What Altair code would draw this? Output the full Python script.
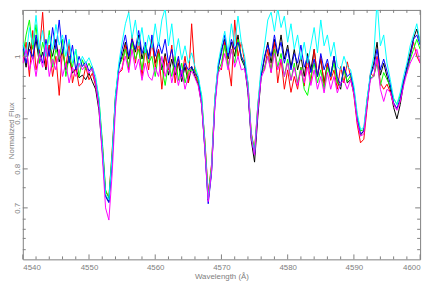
import altair as alt
import pandas as pd

WAVELENGTH = [
    4540.0, 4540.5, 4541.0, 4541.5, 4542.0, 4542.5, 4543.0, 4543.5, 4544.0, 4544.5,
    4545.0, 4545.5, 4546.0, 4546.5, 4547.0, 4547.5, 4548.0, 4548.5, 4549.0, 4549.5,
    4550.0, 4550.5, 4551.0, 4551.5, 4552.0, 4552.5, 4553.0, 4553.5, 4554.0, 4554.5,
    4555.0, 4555.5, 4556.0, 4556.5, 4557.0, 4557.5, 4558.0, 4558.5, 4559.0, 4559.5,
    4560.0, 4560.5, 4561.0, 4561.5, 4562.0, 4562.5, 4563.0, 4563.5, 4564.0, 4564.5,
    4565.0, 4565.5, 4566.0, 4566.5, 4567.0, 4567.5, 4568.0, 4568.5, 4569.0, 4569.5,
    4570.0, 4570.5, 4571.0, 4571.5, 4572.0, 4572.5, 4573.0, 4573.5, 4574.0, 4574.5,
    4575.0, 4575.5, 4576.0, 4576.5, 4577.0, 4577.5, 4578.0, 4578.5, 4579.0, 4579.5,
    4580.0, 4580.5, 4581.0, 4581.5, 4582.0, 4582.5, 4583.0, 4583.5, 4584.0, 4584.5,
    4585.0, 4585.5, 4586.0, 4586.5, 4587.0, 4587.5, 4588.0, 4588.5, 4589.0, 4589.5,
    4590.0, 4590.5, 4591.0, 4591.5, 4592.0, 4592.5, 4593.0, 4593.5, 4594.0, 4594.5,
    4595.0, 4595.5, 4596.0, 4596.5, 4597.0, 4597.5, 4598.0, 4598.5, 4599.0, 4599.5,
    4600.0,
]

BLACK = [
    1.010, 0.984, 1.020, 0.996, 1.024, 0.990, 1.006, 0.980, 1.016, 1.000,
    1.024, 0.992, 1.008, 0.980, 1.000, 0.975, 0.982, 0.968, 0.972, 0.965,
    0.975, 0.962, 0.950, 0.915, 0.840, 0.735, 0.718, 0.825, 0.930, 0.985,
    1.000, 1.020, 0.996, 1.024, 1.006, 1.030, 0.996, 1.016, 1.000, 1.024,
    0.990, 1.010, 0.980, 1.004, 0.972, 0.996, 0.972, 0.990, 0.962, 0.985,
    0.960, 0.985, 0.970, 0.958, 0.925, 0.845, 0.722, 0.795, 0.925, 0.982,
    1.010, 1.024, 0.996, 1.020, 1.000, 1.030, 0.996, 0.985, 0.945, 0.860,
    0.815, 0.905, 0.970, 0.996, 1.020, 0.990, 1.024, 1.000, 1.030, 0.996,
    1.016, 0.984, 1.010, 0.980, 1.000, 0.970, 1.004, 0.980, 1.010, 0.970,
    0.996, 0.960, 0.990, 0.970, 1.000, 0.962, 0.950, 0.985, 0.960, 0.965,
    0.945, 0.898, 0.870, 0.878, 0.925, 0.972, 0.990, 1.020, 0.972, 0.990,
    0.970, 0.950, 0.920, 0.900, 0.925, 0.958, 0.985, 1.005, 1.025, 1.038,
    1.020,
]

RED = [
    0.990, 1.020, 0.970, 1.036, 0.980, 1.004, 1.060, 0.984, 1.016, 0.970,
    1.000, 0.940, 1.010, 0.984, 1.020, 0.960, 0.984, 0.955, 0.960, 0.985,
    0.965, 0.975, 0.955, 0.925, 0.855, 0.745, 0.730, 0.840, 0.940, 0.975,
    0.980, 1.016, 0.980, 1.030, 0.990, 1.020, 0.970, 1.010, 0.980, 1.024,
    0.984, 1.010, 0.950, 1.000, 0.980, 1.016, 0.960, 0.996, 0.970, 1.000,
    0.960, 1.045, 0.975, 0.960, 0.930, 0.860, 0.740, 0.810, 0.935, 0.985,
    0.980, 1.020, 0.990, 0.955, 1.050, 1.000, 1.020, 0.992, 0.960, 0.875,
    0.840, 0.925, 0.975, 0.980, 1.010, 0.976, 1.020, 0.960, 0.996, 0.950,
    0.980, 0.945, 0.970, 0.950, 0.984, 0.955, 0.996, 0.960, 1.010, 0.970,
    1.000, 0.956, 0.990, 0.964, 0.980, 0.950, 0.985, 0.960, 0.992, 0.970,
    0.940, 0.890, 0.855, 0.862, 0.920, 0.975, 0.970, 1.000, 0.960, 0.950,
    0.958, 0.945, 0.925, 0.918, 0.930, 0.965, 0.975, 1.000, 1.020, 1.000,
    0.990,
]

GREEN = [
    1.000, 1.030, 1.050, 1.010, 1.044, 0.990, 1.020, 1.000, 1.036, 0.984,
    1.010, 0.996, 1.024, 0.970, 1.000, 0.984, 1.010, 0.970, 0.995, 0.980,
    0.990, 0.978, 0.965, 0.935, 0.860, 0.750, 0.728, 0.835, 0.940, 0.985,
    0.996, 1.010, 0.984, 1.020, 0.996, 1.010, 0.980, 1.016, 0.990, 1.000,
    0.970, 1.004, 0.984, 0.956, 0.990, 0.970, 1.000, 0.964, 0.990, 0.960,
    0.980, 0.978, 0.982, 0.962, 0.940, 0.855, 0.735, 0.805, 0.935, 0.978,
    0.990, 1.016, 0.984, 1.010, 0.990, 1.024, 1.000, 0.988, 0.958, 0.872,
    0.838, 0.920, 0.975, 0.984, 1.000, 0.980, 1.010, 0.984, 1.004, 0.970,
    0.996, 0.964, 0.990, 0.960, 0.984, 0.950, 0.940, 0.970, 0.990, 0.960,
    0.980, 0.950, 0.984, 0.970, 0.990, 0.960, 0.956, 0.980, 0.962, 0.972,
    0.950, 0.905, 0.878, 0.880, 0.935, 0.968, 0.970, 0.990, 0.956, 0.976,
    0.965, 0.955, 0.935, 0.925, 0.940, 0.962, 0.978, 0.995, 1.010, 1.024,
    1.010,
]

BLUE = [
    1.016, 0.990, 1.010, 0.996, 1.030, 1.004, 0.990, 1.024, 1.000, 1.040,
    1.010, 1.050, 1.004, 1.030, 0.990, 1.016, 0.980, 1.000, 0.985, 0.992,
    0.978, 0.985, 0.960, 0.925, 0.845, 0.732, 0.715, 0.820, 0.935, 0.982,
    1.010, 1.030, 1.000, 1.024, 1.010, 1.036, 1.004, 1.020, 0.996, 1.030,
    1.000, 1.020, 1.004, 1.024, 0.990, 1.010, 0.980, 1.000, 0.970, 0.990,
    0.980, 0.985, 0.975, 0.968, 0.930, 0.840, 0.712, 0.790, 0.925, 0.985,
    1.004, 1.030, 1.000, 1.024, 1.010, 1.020, 1.000, 0.990, 0.950, 0.865,
    0.830, 0.915, 0.972, 1.000, 1.016, 1.000, 1.030, 1.004, 1.020, 0.990,
    1.010, 0.980, 1.004, 0.990, 1.016, 0.984, 1.000, 0.976, 0.996, 0.970,
    1.004, 0.980, 0.996, 0.970, 1.000, 0.970, 0.956, 0.984, 0.970, 0.975,
    0.948, 0.900, 0.872, 0.878, 0.930, 0.972, 0.984, 1.010, 0.980, 0.996,
    0.978, 0.958, 0.928, 0.918, 0.935, 0.962, 0.982, 1.000, 1.024, 1.030,
    1.016,
]

CYAN = [
    1.020, 1.000, 1.040, 1.016, 1.056, 1.010, 1.036, 1.000, 1.030, 1.010,
    1.044, 1.016, 1.030, 1.000, 1.024, 0.990, 1.010, 0.984, 1.000, 0.990,
    0.998, 0.985, 0.970, 0.935, 0.850, 0.738, 0.722, 0.830, 0.940, 0.990,
    1.020, 1.045, 1.060, 1.025, 1.050, 1.015, 1.040, 1.005, 1.030, 1.012,
    1.045, 1.015, 1.050, 1.065, 1.015, 1.045, 1.000, 1.025, 0.995, 1.015,
    0.990, 1.005, 0.985, 0.970, 0.940, 0.850, 0.725, 0.800, 0.935, 0.990,
    1.015, 1.035, 1.005, 1.045, 1.015, 1.055, 1.020, 1.000, 0.960, 0.870,
    0.835, 0.925, 0.985, 1.015, 1.050, 1.060, 1.035, 1.065, 1.040, 1.055,
    1.020, 1.045, 1.010, 1.030, 0.995, 1.020, 0.990, 1.015, 1.040, 1.005,
    1.050, 1.015, 1.030, 1.000, 1.020, 0.985, 0.980, 1.000, 0.985, 0.980,
    0.955, 0.910, 0.880, 0.885, 0.935, 0.975, 1.000, 1.075, 1.015, 1.030,
    0.990, 0.965, 0.935, 0.925, 0.945, 0.970, 0.990, 1.015, 1.030, 1.045,
    1.020,
]

MAGENTA = [
    0.990, 1.010, 0.980, 1.000, 0.970, 1.004, 0.984, 1.016, 0.970, 0.996,
    0.980, 1.010, 0.970, 0.990, 0.960, 0.984, 0.970, 0.990, 0.980, 0.988,
    0.975, 0.982, 0.960, 0.920, 0.830, 0.700, 0.662, 0.790, 0.920, 0.975,
    0.984, 1.000, 0.976, 1.010, 0.980, 0.996, 0.964, 0.990, 0.970, 0.964,
    0.984, 0.970, 1.000, 0.970, 0.990, 0.960, 0.984, 0.956, 0.980, 0.950,
    0.970, 0.978, 0.968, 0.955, 0.925, 0.840, 0.718, 0.795, 0.920, 0.975,
    0.984, 1.004, 0.980, 1.010, 0.984, 1.000, 0.980, 0.982, 0.950, 0.865,
    0.830, 0.915, 0.968, 0.980, 1.000, 0.976, 1.004, 0.980, 0.996, 0.970,
    0.990, 0.964, 0.984, 0.956, 0.980, 0.960, 0.984, 0.956, 0.980, 0.950,
    0.970, 0.944, 0.976, 0.950, 0.970, 0.944, 0.960, 0.964, 0.950, 0.965,
    0.942, 0.895, 0.868, 0.872, 0.925, 0.965, 0.970, 0.996, 0.950, 0.930,
    0.950, 0.945, 0.925, 0.915, 0.930, 0.955, 0.975, 0.990, 1.000, 1.010,
    0.990,
]

SERIES_NAMES = ["black", "red", "green", "blue", "cyan", "magenta"]
SERIES_COLORS = ["#000000", "#ff0000", "#00ff00", "#0000ff", "#00ffff", "#ff00ff"]
SERIES_VALUES = [BLACK, RED, GREEN, BLUE, CYAN, MAGENTA]

X_MAJOR = [4540, 4550, 4560, 4570, 4580, 4590, 4600]
X_MINOR = [4542, 4544, 4546, 4548, 4552, 4554, 4556, 4558, 4562, 4564, 4566, 4568,
           4572, 4574, 4576, 4578, 4582, 4584, 4586, 4588, 4592, 4594, 4596, 4598]
Y_MAJOR = [1.0, 0.9, 0.8, 0.7]
Y_MINOR = [0.97, 0.955, 0.935, 0.865, 0.755, 0.665, 0.63, 0.595, 0.545]

W, H = 403, 253
GRAY = "#808080"
FONT = "Liberation Sans"

xs = alt.Scale(domain=[4540, 4600], nice=False, zero=False)
ys = alt.Scale(type="pow", exponent=3, domain=[0.493, 1.063], nice=False, zero=False)

x_axis = alt.Axis(values=X_MAJOR, format="d", ticks=False, domain=False, grid=False,
                  labelFontSize=8, labelColor=GRAY, labelFont=FONT, labelPadding=4,
                  title="Wavelength (Å)", titleFontSize=8, titleFont=FONT,
                  titleFontWeight="normal", titleColor=GRAY, titleY=17,
                  titleBaseline="middle")
y_axis = alt.Axis(values=Y_MAJOR, format=".1~f", ticks=False, domain=False, grid=False,
                  labelFontSize=8, labelColor=GRAY, labelFont=FONT, labelPadding=1,
                  labelAngle=270, labelAlign="center", labelBaseline="bottom",
                  title="Normalized Flux", titleFontSize=8, titleFont=FONT,
                  titleFontWeight="normal", titleColor=GRAY, titleAngle=270,
                  titleX=-11, titleY=122, titleAlign="center", titleBaseline="middle")

X_ENC = alt.X("wl:Q", scale=xs, axis=x_axis)

def Y_ENC():
    return alt.Y("flux:Q", scale=ys, axis=y_axis)

layers = []
for name, color, vals in zip(SERIES_NAMES, SERIES_COLORS, SERIES_VALUES):
    df = pd.DataFrame({"wl": WAVELENGTH, "flux": vals, "series": name})
    layers.append(
        alt.Chart(df).mark_line(color=color, strokeWidth=1, clip=True).encode(
            x=X_ENC, y=Y_ENC(),
        )
    )

xmaj = pd.DataFrame({"wl": X_MAJOR})
xmin = pd.DataFrame({"wl": X_MINOR})
ymaj = pd.DataFrame({"flux": Y_MAJOR})
ymin = pd.DataFrame({"flux": Y_MINOR})

def xticks(df, length):
    bottom = alt.Chart(df).mark_rule(color=GRAY, strokeWidth=1).encode(
        x=X_ENC, y=alt.value(H), y2=alt.value(H - length))
    top = alt.Chart(df).mark_rule(color=GRAY, strokeWidth=1).encode(
        x=X_ENC, y=alt.value(0), y2=alt.value(length))
    return [bottom, top]

def yticks(df, length):
    left = alt.Chart(df).mark_rule(color=GRAY, strokeWidth=1).encode(
        y=Y_ENC(), x=alt.value(0), x2=alt.value(length))
    right = alt.Chart(df).mark_rule(color=GRAY, strokeWidth=1).encode(
        y=Y_ENC(), x=alt.value(W), x2=alt.value(W - length))
    return [left, right]

layers += xticks(xmaj, 5) + xticks(xmin, 3) + yticks(ymaj, 5) + yticks(ymin, 3)

chart = alt.layer(*layers).properties(
    width=W, height=H,
    autosize=alt.AutoSizeParams(type="none"),
    padding={"left": 15, "top": 0, "right": 8, "bottom": 20},
).configure_view(stroke=GRAY, strokeWidth=1)

chart.save("out.html", embed_options={"renderer": "svg", "actions": False})
